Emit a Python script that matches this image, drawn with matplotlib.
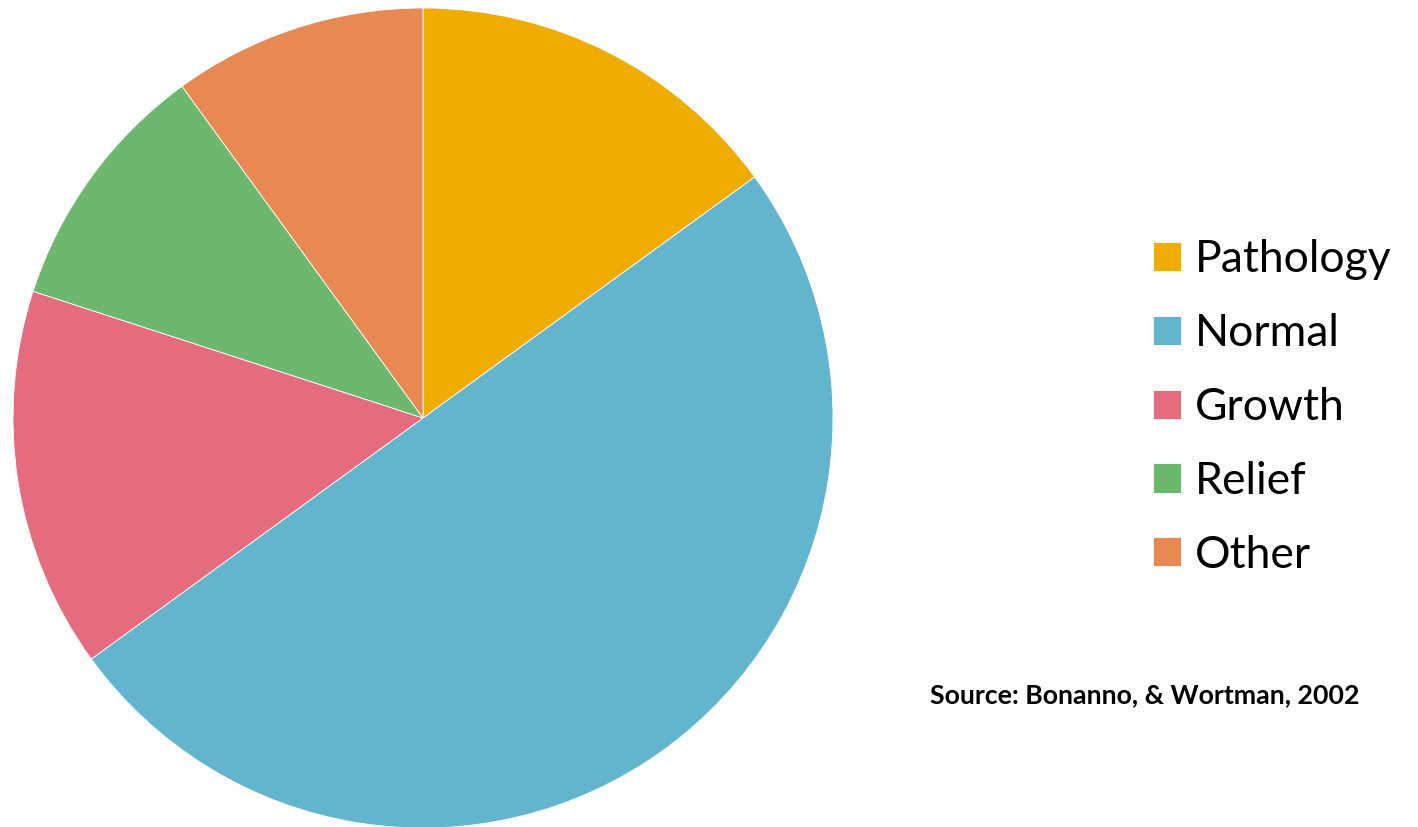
import matplotlib.pyplot as plt

labels = ['Pathology', 'Normal', 'Growth', 'Relief', 'Other']
values = [15, 50, 15, 10, 10]
colors = ['#F0AD00', '#62B5CC', '#E46C7E', '#6DB86E', '#E88953']
source = 'Source: Bonanno, & Wortman, 2002'

fig = plt.figure(figsize=(14.18, 8.27), dpi=100)
W, H = 1418, 827
cx, cy, r = 423, 418, 410
ax = fig.add_axes([(cx - r) / W, (H - cy - r) / H, 2 * r / W, 2 * r / H])

wedges, _ = ax.pie(values, colors=colors, startangle=90, counterclock=False,
                   radius=1.0, wedgeprops=dict(edgecolor='white', linewidth=0.6))
ax.set_xlim(-1, 1)
ax.set_ylim(-1, 1)
ax.set_aspect('equal')
ax.axis('off')

fig.legend(wedges, labels, loc='upper left', bbox_to_anchor=(1153 / W, 1 - 239 / H),
           frameon=False, prop=dict(family='Lato', size=32),
           handlelength=0.63, handleheight=0.63, handletextpad=0.32,
           labelspacing=0.74, borderpad=0, borderaxespad=0)

fig.text(930 / W, 1 - 695 / H, source, family='Lato', weight='bold',
         fontsize=19.3, va='center', ha='left')

fig.savefig('out.png', dpi=100)
